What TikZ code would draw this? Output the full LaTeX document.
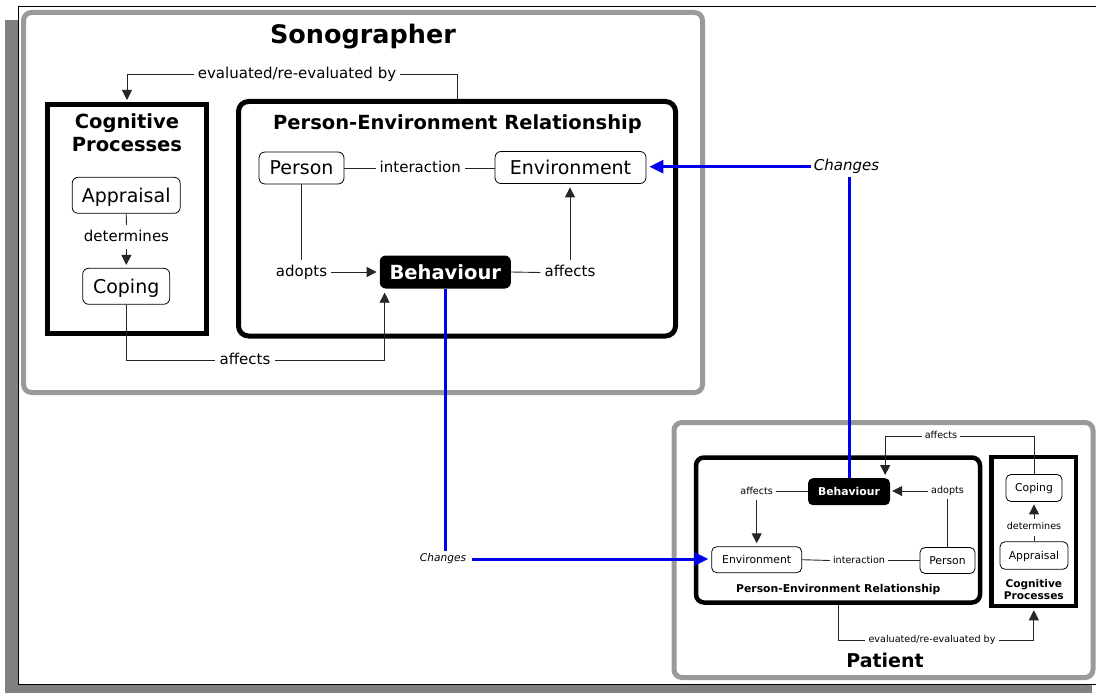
\documentclass[tikz,border=0pt]{standalone}
\usepackage{fontspec}
\setmainfont{DejaVu Sans}
\usetikzlibrary{arrows.meta,calc}
\definecolor{frameg}{HTML}{9A9A9A}
\definecolor{shadowg}{HTML}{808080}
\definecolor{chblue}{HTML}{0000F0}
\newcommand{\setfs}[1]{\fontsize{#1}{#1}\selectfont}
\begin{document}
\begin{tikzpicture}[x=1pt,y=-1pt,
  concept/.style={draw, rounded corners=6, line width=0.8, fill=white, inner sep=0},
  bigc/.style={concept, font=\setfs{19}, text height=18.05pt, text depth=4.18pt},
  smallc/.style={concept, font=\setfs{10.8}, rounded corners=5, text height=10.26pt, text depth=2.38pt},
  behav/.style={fill=black, text=white, rounded corners=6, inner sep=0},
  lbl/.style={inner sep=4},
  biglbl/.style={lbl, font=\setfs{15}, text height=12pt, text depth=3.9pt},
  smalllbl/.style={lbl, font=\setfs{9.6}, inner sep=3, text height=7.7pt, text depth=2.5pt},
  conn/.style={line width=0.9, draw=black!85},
  arr/.style={conn, -{Triangle[length=10pt,width=10pt]}},
  blueline/.style={line width=3, draw=chblue},
  bluearr/.style={blueline, -{Triangle[length=14pt,width=13pt]}},
  grayframe/.style={draw=frameg, line width=5, rounded corners=8},
  thickbox/.style={draw=black, line width=5, inner sep=0},
  thinbox/.style={draw=black, line width=4.5, inner sep=0}
]
\path[use as bounding box] (0,0) rectangle (1096,693);
\clip (0,0) rectangle (1096,693);
% page and shadow
\fill[shadowg] (5,20) rectangle (1092,700);
\draw[fill=white, line width=1] (18,7) rectangle (1110,684);

% ===== Sonographer =====
\draw[grayframe] (23.5,12.5) rectangle (702.5,392.5);
\node[anchor=base, font=\setfs{25.5}\bfseries, inner sep=0] (titS) at (363,44) {Sonographer};

\node[thickbox, minimum width=159, minimum height=228] (cogS) at (127,219) {};
\node[anchor=base, font=\setfs{19.5}\bfseries, inner sep=0] (cogS1) at (127,128.3) {Cognitive};
\node[anchor=base, font=\setfs{19.5}\bfseries, inner sep=0] (cogS2) at (127,151.3) {Processes};

\node[thickbox, rounded corners=10, minimum width=437, minimum height=234.5] (perS) at (457,218.75) {};
\node[anchor=base, font=\setfs{19.5}\bfseries, inner sep=0] (perSt) at (457.5,129.2) {Person-Environment Relationship};

\node[bigc, minimum width=85, minimum height=32] (personS) at (301.5,168) {Person};
\node[bigc, minimum width=151, minimum height=32] (envS) at (570.5,167.5) {Environment};
\node[behav, font=\setfs{19.5}\bfseries, text height=18.5pt, text depth=4.3pt, minimum width=131, minimum height=33] (behS) at (445.3,272) {Behaviour};
\node[biglbl] (intS) at (420.3,168) {interaction};
\node[biglbl] (adoptS) at (301.5,272) {adopts};
\node[biglbl] (affS) at (570,272.5) {affects};

\node[bigc, minimum width=108, minimum height=36] (apprS) at (126.2,195.3) {Appraisal};
\node[biglbl] (detS) at (126.5,237) {determines};
\node[bigc, minimum width=87, minimum height=36] (copS) at (126.2,286.3) {Coping};
\node[biglbl] (affCS) at (245,360.5) {affects};
\node[biglbl] (evS) at (297,74) {evaluated/re-evaluated by};

\draw[conn] (perS.north) |- (evS.east);
\draw[arr, shorten >=2.5] (evS.west) -| (cogS.north);
\draw[conn] (personS.east) -- (intS.west);
\draw[conn] (intS.east) -- (intS.east -| envS.west);
\draw[conn] (personS.south) -- (adoptS.north);
\draw[arr, shorten >=3] (adoptS.east) -- (adoptS.east -| behS.west);
\draw[conn] (behS.east) -- (affS.west);
\draw[arr, shorten >=3.5] (affS.north) -- (affS.north |- envS.south);
\draw[conn] (apprS.south) -- (detS.north);
\draw[arr, shorten >=3] (detS.south) -- (copS.north);
\draw[conn] (copS.south) |- (affCS.west);
\draw[arr, shorten >=4] (affCS.east) -| ([xshift=5]behS.south west);

% ===== Patient =====
\draw[grayframe] (674,422.5) rectangle (1093,677.5);
\node[anchor=base, font=\setfs{19}\bfseries, inner sep=0] (titP) at (885,667) {Patient};

\node[thinbox, rounded corners=8, minimum width=284, minimum height=145] (perP) at (838,530) {};
\node[anchor=base, font=\setfs{10.8}\bfseries, inner sep=0] (perPt) at (838.3,592.2) {Person-Environment Relationship};

\node[thinbox, minimum width=84.3, minimum height=149] (cogP) at (1033.85,531.5) {};
\node[anchor=base, font=\setfs{10.6}\bfseries, inner sep=0] (cogP1) at (1033.85,587.2) {Cognitive};
\node[anchor=base, font=\setfs{10.6}\bfseries, inner sep=0] (cogP2) at (1033.85,599.2) {Processes};

\node[behav, font=\setfs{10.8}\bfseries, text height=10.3pt, text depth=2.4pt, rounded corners=5, minimum width=82, minimum height=27] (behP) at (849,491.7) {Behaviour};
\node[smallc, minimum width=90, minimum height=26] (envP) at (756.7,559.7) {Environment};
\node[smallc, minimum width=55, minimum height=26] (personP) at (947.5,560.5) {Person};
\node[smalllbl] (intP) at (859,560.5) {interaction};
\node[smalllbl] (affP) at (756.7,491.7) {affects};
\node[smalllbl] (adoptP) at (947.5,491) {adopts};

\node[smallc, minimum width=56, minimum height=27] (copP) at (1034,488) {Coping};
\node[smallc, minimum width=68, minimum height=27.5] (apprP) at (1034,555.5) {Appraisal};
\node[smalllbl] (detP) at (1034,527.3) {determines};
\node[smalllbl] (affTP) at (941,436) {affects};
\node[smalllbl] (evP) at (932,640) {evaluated/re-evaluated by};

\draw[conn] (behP.west) -- (affP.east);
\draw[arr, shorten >=3] (affP.south) -- (affP.south |- envP.north);
\draw[conn] (personP.north) -- (adoptP.south);
\draw[arr, shorten >=2] (adoptP.west) -- (adoptP.west -| behP.east);
\draw[conn] (envP.east) -- (intP.west);
\draw[conn] (intP.east) -- (intP.east -| personP.west);
\draw[conn] (copP.north) |- (affTP.east);
\draw[arr, shorten >=3] (affTP.west) -| ([xshift=-5]behP.north east);
\draw[conn] (apprP.north) -- (detP.south);
\draw[arr, shorten >=2.5] (detP.north) -- (copP.south);
\draw[conn] (perP.south) |- (evP.west);
\draw[arr, shorten >=2] (evP.east) -| (cogP.south);

% ===== Blue "Changes" connectors =====
\node[font=\setfs{10.6}\itshape, inner xsep=6, inner ysep=2.5, text height=8.5pt, text depth=2.6pt] (chL) at (443,559) {Changes};
\node[font=\setfs{15}\itshape, inner sep=2.5, text height=12pt, text depth=3.9pt] (chR) at (846.5,166.7) {Changes};
\draw[blueline] (behS.south) -- (behS.south |- chL.north);
\draw[bluearr, shorten >=3] (chL.east) -- (chL.east -| envP.west);
\draw[bluearr, shorten >=3] (chR.west) -- (chR.west -| envS.east);
\draw[blueline] (chR.south -| behP.north) -- (behP.north);
\end{tikzpicture}
\end{document}
